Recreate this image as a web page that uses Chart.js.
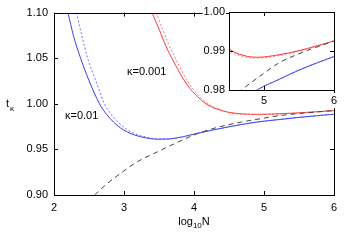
<!DOCTYPE html>
<html><head><meta charset="utf-8">
<script src="https://cdn.jsdelivr.net/npm/chart.js@4/dist/chart.umd.min.js"></script>
<style>
html,body{margin:0;padding:0;background:#fff;}
#wrap{position:relative;width:354px;height:243px;overflow:hidden;}
canvas{position:absolute;}
</style>
</head><body>
<div id="wrap">
<canvas id="main" width="354" height="243" style="left:0;top:0;width:354px;height:243px"></canvas>
<canvas id="inset" width="150" height="110" style="left:195px;top:0;width:150px;height:110px"></canvas>
</div>
<script>
// ---- data ----
const blueSolidX = [2.20, 2.28, 2.38, 2.50, 2.65, 2.75, 2.85, 2.95, 3.05, 3.15, 3.30, 3.47, 3.65, 3.85, 4.04, 4.50, 4.90, 5.20, 5.50, 5.75, 6.00];
const blueSolidY = [1.100, 1.074, 1.050, 1.0255, 1.000, 0.9885, 0.980, 0.9735, 0.969, 0.9658, 0.9628, 0.9612, 0.9615, 0.964, 0.9675, 0.9748, 0.980, 0.9826, 0.9851, 0.9869, 0.9886];
const blueDotX = [2.32, 2.40, 2.48, 2.60, 2.72, 2.82, 2.92, 3.02, 3.12, 3.22, 3.35, 3.50, 3.65, 3.85, 4.04, 4.50, 4.90, 5.20, 5.50, 5.75, 6.00];
const blueDotY = [1.100, 1.074, 1.050, 1.0245, 1.000, 0.988, 0.9795, 0.973, 0.9685, 0.9655, 0.963, 0.9613, 0.9615, 0.964, 0.9675, 0.9748, 0.980, 0.9826, 0.9851, 0.9869, 0.9886];
const redSolidX = [3.40, 3.50, 3.60, 3.70, 3.85, 3.94, 4.09, 4.18, 4.30, 4.50, 4.70, 4.91, 5.20, 5.50, 5.75, 6.00];
const redSolidY = [1.100, 1.082, 1.063, 1.0475, 1.027, 1.017, 1.005, 0.9995, 0.9950, 0.9906, 0.9889, 0.9884, 0.9890, 0.9901, 0.9913, 0.9926];
const redDotX = [3.46, 3.55, 3.65, 3.75, 3.89, 3.98, 4.12, 4.21, 4.33, 4.50, 4.70, 4.91, 5.20, 5.50, 5.75, 6.00];
const redDotY = [1.100, 1.082, 1.063, 1.0475, 1.027, 1.017, 1.005, 0.9995, 0.9950, 0.9903, 0.9886, 0.9882, 0.9888, 0.9900, 0.9912, 0.9926];
const dashX = [2.58, 2.70, 2.80, 2.95, 3.10, 3.25, 3.43, 3.70, 4.04, 4.35, 4.68, 5.00, 5.20, 5.50, 5.75, 6.00];
const dashY = [0.900, 0.9085, 0.915, 0.9237, 0.932, 0.939, 0.9456, 0.9555, 0.967, 0.9745, 0.980, 0.9843, 0.9868, 0.9893, 0.9910, 0.9925];

const mainXTicks = [2, 3, 4, 5, 6];
const mainXTickLabels = ['2', '3', '4', '5', '6'];
const mainYTicks = [0.90, 0.95, 1.00, 1.05, 1.10];
const mainYTickLabels = ['0.90', '0.95', '1.00', '1.05', '1.10'];
const insetXTicks = [5, 6];
const insetXTickLabels = ['5', '6'];
const insetYTicks = [0.98, 0.99, 1.00];
const insetYTickLabels = ['0.98', '0.99', '1.00'];

const curveLabels = ['\u03ba=0.01', '\u03ba=0.001'];
const FONT = '"Liberation Sans", Arial, sans-serif';

function pts(xs, ys) { return xs.map((x, i) => ({x: x, y: ys[i]})); }

function makeDatasets() {
  const base = {pointRadius: 0, borderWidth: 1, cubicInterpolationMode: 'monotone', fill: false};
  return [
    Object.assign({}, base, {data: pts(dashX, dashY), borderColor: '#444444', borderDash: [5, 4]}),
    Object.assign({}, base, {data: pts(blueDotX, blueDotY), borderColor: 'rgba(90,90,255,0.85)', borderDash: [2, 2]}),
    Object.assign({}, base, {data: pts(redDotX, redDotY), borderColor: 'rgba(255,90,90,0.85)', borderDash: [2, 2]}),
    Object.assign({}, base, {data: pts(blueSolidX, blueSolidY), borderColor: '#3a3aff'}),
    Object.assign({}, base, {data: pts(redSolidX, redSolidY), borderColor: '#ff3a3a'})
  ];
}

function tickSetter(values) {
  return function(scale) { scale.ticks = values.map(v => ({value: v})); };
}
function labelFor(values, labels) {
  return function(value) {
    const i = values.findIndex(v => Math.abs(v - value) < 1e-9);
    return i >= 0 ? labels[i] : '';
  };
}

const framePlugin = {
  id: 'frame',
  beforeDraw(chart, args, opts) {
    if (opts.fillArea) {
      const a = chart.chartArea, ctx = chart.ctx;
      ctx.save();
      ctx.fillStyle = '#ffffff';
      ctx.fillRect(a.left, a.top, a.right - a.left, a.bottom - a.top);
      ctx.restore();
    }
  },
  afterDatasetsDraw(chart, args, opts) {
    const a = chart.chartArea, ctx = chart.ctx;
    const xs = chart.scales.x, ys = chart.scales.y;
    const L = opts.tickLen || 4;
    ctx.save();
    ctx.strokeStyle = '#000';
    ctx.lineWidth = 1;
    ctx.beginPath();
    (opts.xTicks || []).forEach(v => {
      const px = Math.round(xs.getPixelForValue(v)) + 0.5;
      ctx.moveTo(px, a.bottom); ctx.lineTo(px, a.bottom - L);
      ctx.moveTo(px, a.top); ctx.lineTo(px, a.top + L);
    });
    (opts.yTicks || []).forEach(v => {
      const py = Math.round(ys.getPixelForValue(v)) + 0.5;
      ctx.moveTo(a.left, py); ctx.lineTo(a.left + L, py);
      ctx.moveTo(a.right, py); ctx.lineTo(a.right - L, py);
    });
    ctx.stroke();
    ctx.strokeRect(Math.round(a.left) + 0.5, Math.round(a.top) + 0.5,
                   Math.round(a.right - a.left), Math.round(a.bottom - a.top));
    ctx.restore();
  }
};

const textPlugin = {
  id: 'texts',
  afterDraw(chart) {
    const ctx = chart.ctx;
    ctx.save();
    ctx.fillStyle = '#000';
    ctx.textBaseline = 'middle';
    ctx.textAlign = 'left';
    ctx.font = '11px ' + FONT;
    ctx.fillText(curveLabels[0], 65, 116);
    ctx.fillText(curveLabels[1], 127, 71.5);
    // y title t_kappa
    ctx.fillText('t', 6, 104);
    ctx.font = '8px ' + FONT;
    ctx.fillText('\u03ba', 10, 108.5);
    // x title log10 N
    ctx.font = '11px ' + FONT;
    const w1 = ctx.measureText('log').width;
    const w3 = ctx.measureText('N').width;
    ctx.font = '8px ' + FONT;
    const w2 = ctx.measureText('10').width;
    const total = w1 + w2 + w3;
    let x0 = 194 - total / 2;
    ctx.font = '11px ' + FONT;
    ctx.fillText('log', x0, 222);
    ctx.font = '8px ' + FONT;
    ctx.fillText('10', x0 + w1, 226);
    ctx.font = '11px ' + FONT;
    ctx.fillText('N', x0 + w1 + w2, 222);
    ctx.restore();
  }
};

Chart.defaults.font.family = FONT;
Chart.defaults.font.size = 11;
Chart.defaults.color = '#000';

new Chart(document.getElementById('main'), {
  type: 'line',
  data: {datasets: makeDatasets()},
  plugins: [framePlugin, textPlugin],
  options: {
    responsive: false, animation: false, devicePixelRatio: 1,
    layout: {padding: {left: 0, right: 20, top: 12, bottom: 0}},
    plugins: {legend: {display: false}, tooltip: {enabled: false},
      frame: {xTicks: mainXTicks, yTicks: mainYTicks, tickLen: 4, fillArea: false}},
    scales: {
      x: {type: 'linear', min: 2, max: 6,
        grid: {display: false, drawTicks: false}, border: {display: false},
        afterBuildTicks: tickSetter(mainXTicks),
        afterFit: s => { s.height = 48; },
        ticks: {padding: 6, maxRotation: 0, autoSkip: false, callback: labelFor(mainXTicks, mainXTickLabels)}},
      y: {type: 'linear', min: 0.90, max: 1.10,
        grid: {display: false, drawTicks: false}, border: {display: false},
        afterBuildTicks: tickSetter(mainYTicks),
        afterFit: s => { s.width = 54; },
        ticks: {padding: 6, autoSkip: false, callback: labelFor(mainYTicks, mainYTickLabels)}}
    }
  }
});

new Chart(document.getElementById('inset'), {
  type: 'line',
  data: {datasets: makeDatasets()},
  plugins: [framePlugin],
  options: {
    responsive: false, animation: false, devicePixelRatio: 1,
    layout: {padding: {left: 0, right: 11, top: 12, bottom: 0}},
    plugins: {legend: {display: false}, tooltip: {enabled: false},
      frame: {xTicks: insetXTicks, yTicks: insetYTicks, tickLen: 4, fillArea: true}},
    scales: {
      x: {type: 'linear', min: 4.5, max: 6,
        grid: {display: false, drawTicks: false}, border: {display: false},
        afterBuildTicks: tickSetter(insetXTicks),
        afterFit: s => { s.height = 20; },
        ticks: {padding: 4, maxRotation: 0, autoSkip: false,
          showLabelBackdrop: true, backdropColor: '#ffffff', backdropPadding: 1,
          callback: labelFor(insetXTicks, insetXTickLabels)}},
      y: {type: 'linear', min: 0.98, max: 1.00,
        grid: {display: false, drawTicks: false}, border: {display: false},
        afterBuildTicks: tickSetter(insetYTicks),
        afterFit: s => { s.width = 34; },
        ticks: {padding: 4, autoSkip: false,
          showLabelBackdrop: true, backdropColor: '#ffffff', backdropPadding: 1,
          callback: labelFor(insetYTicks, insetYTickLabels)}}
    }
  }
});
</script>
</body></html>
